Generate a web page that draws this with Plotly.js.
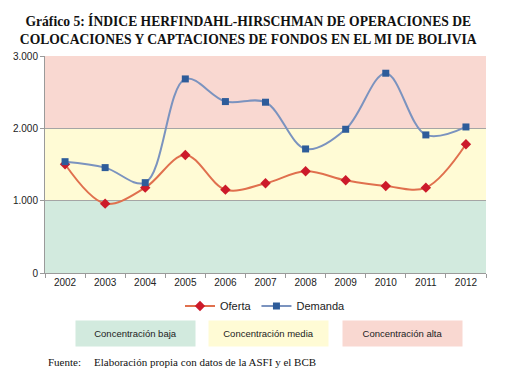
<!DOCTYPE html>
<html><head><meta charset="utf-8">
<script src="https://cdn.plot.ly/plotly-3.0.1.min.js"></script>
<style>html,body{margin:0;padding:0;background:#fff;}#chart{width:514px;height:378px;}</style>
</head><body><div id="chart"></div>
<script>
var years = ['2002','2003','2004','2005','2006','2007','2008','2009','2010','2011','2012'];
var oferta = [1503, 959, 1180, 1632, 1152, 1240, 1406, 1282, 1203, 1180, 1780];
var demanda = [1539, 1457, 1249, 2683, 2370, 2361, 1715, 1987, 2762, 1909, 2019];
var bandLimits = [0, 1000, 2000, 3000];
var bandNames = ['Concentración baja', 'Concentración media', 'Concentración alta'];
var bandColors = ['#d2eade', '#fffbd5', '#f9d8d1'];

var traces = [
  {x: years, y: oferta, name: 'Oferta', type: 'scatter', mode: 'lines+markers',
   line: {color: '#e0704e', width: 2, shape: 'spline', smoothing: 1},
   marker: {symbol: 'diamond', size: 8, color: '#cc1a2a'}},
  {x: years, y: demanda, name: 'Demanda', type: 'scatter', mode: 'lines+markers',
   line: {color: '#7b93bf', width: 2, shape: 'spline', smoothing: 1},
   marker: {symbol: 'square', size: 7, color: '#2e5c9a'}}
];

var shapes = [];
for (var i = 0; i < bandNames.length; i++) {
  shapes.push({type: 'rect', xref: 'paper', yref: 'y', x0: 0, x1: 1,
    y0: bandLimits[i], y1: bandLimits[i+1], fillcolor: bandColors[i], line: {width: 0}, layer: 'below'});
}
var boxX = [0.205, 0.507, 0.81];
var annotations = [];
for (var j = 0; j < bandNames.length; j++) {
  annotations.push({text: bandNames[j], xref: 'paper', yref: 'paper', x: boxX[j], y: -0.281,
    xanchor: 'center', yanchor: 'middle', showarrow: false, bgcolor: bandColors[j],
    width: 117, height: 23, font: {family: 'Liberation Sans, Arial', size: 9.5, color: '#222'}});
}
annotations.push({text: 'Fuente:', xref: 'paper', yref: 'paper', x: (46-45)/441, y: -(362-273)/217,
  xanchor: 'left', yanchor: 'middle', showarrow: false,
  font: {family: 'Liberation Serif, Times New Roman', size: 11, color: '#111'}});
annotations.push({text: 'Elaboración propia con datos de la ASFI y el BCB', xref: 'paper', yref: 'paper',
  x: (92-45)/441, y: -(362-273)/217, xanchor: 'left', yanchor: 'middle', showarrow: false,
  font: {family: 'Liberation Serif, Times New Roman', size: 11, color: '#111'}});

var layout = {
  width: 514, height: 378,
  margin: {l: 45, r: 28, t: 56, b: 105},
  paper_bgcolor: '#ffffff', plot_bgcolor: '#ffffff',
  title: {text: '<b>Gráfico 5: ÍNDICE HERFINDAHL-HIRSCHMAN DE OPERACIONES DE<br>COLOCACIONES Y CAPTACIONES DE FONDOS EN EL MI DE BOLIVIA</b>',
    font: {family: 'Liberation Serif, Times New Roman', size: 13.6, color: '#111'},
    x: 0.483, xanchor: 'center', y: 0.93, yanchor: 'middle'},
  xaxis: {type: 'category', range: [-0.5, 10.5], showgrid: false, showline: true, linecolor: '#9a9a9a',
    ticks: 'outside', tickson: 'boundaries', ticklen: 4, tickcolor: '#9a9a9a',
    tickfont: {family: 'Liberation Sans, Arial', size: 10, color: '#222'}, fixedrange: true},
  yaxis: {range: [0, 3000], tickvals: [0, 1000, 2000, 3000], ticktext: ['0', '1.000', '2.000', '3.000'],
    showgrid: true, gridcolor: '#a5a5a5', gridwidth: 1, showline: true, linecolor: '#9a9a9a',
    ticks: 'outside', ticklen: 4, tickcolor: '#9a9a9a', zeroline: false,
    tickfont: {family: 'Liberation Sans, Arial', size: 10, color: '#222'}},
  showlegend: true,
  legend: {orientation: 'h', x: 0.5, xanchor: 'center', y: -0.152, yanchor: 'middle',
    font: {family: 'Liberation Sans, Arial', size: 11, color: '#222'}, itemwidth: 30},
  shapes: shapes,
  annotations: annotations
};
Plotly.newPlot('chart', traces, layout, {displayModeBar: false, staticPlot: true});
</script></body></html>
